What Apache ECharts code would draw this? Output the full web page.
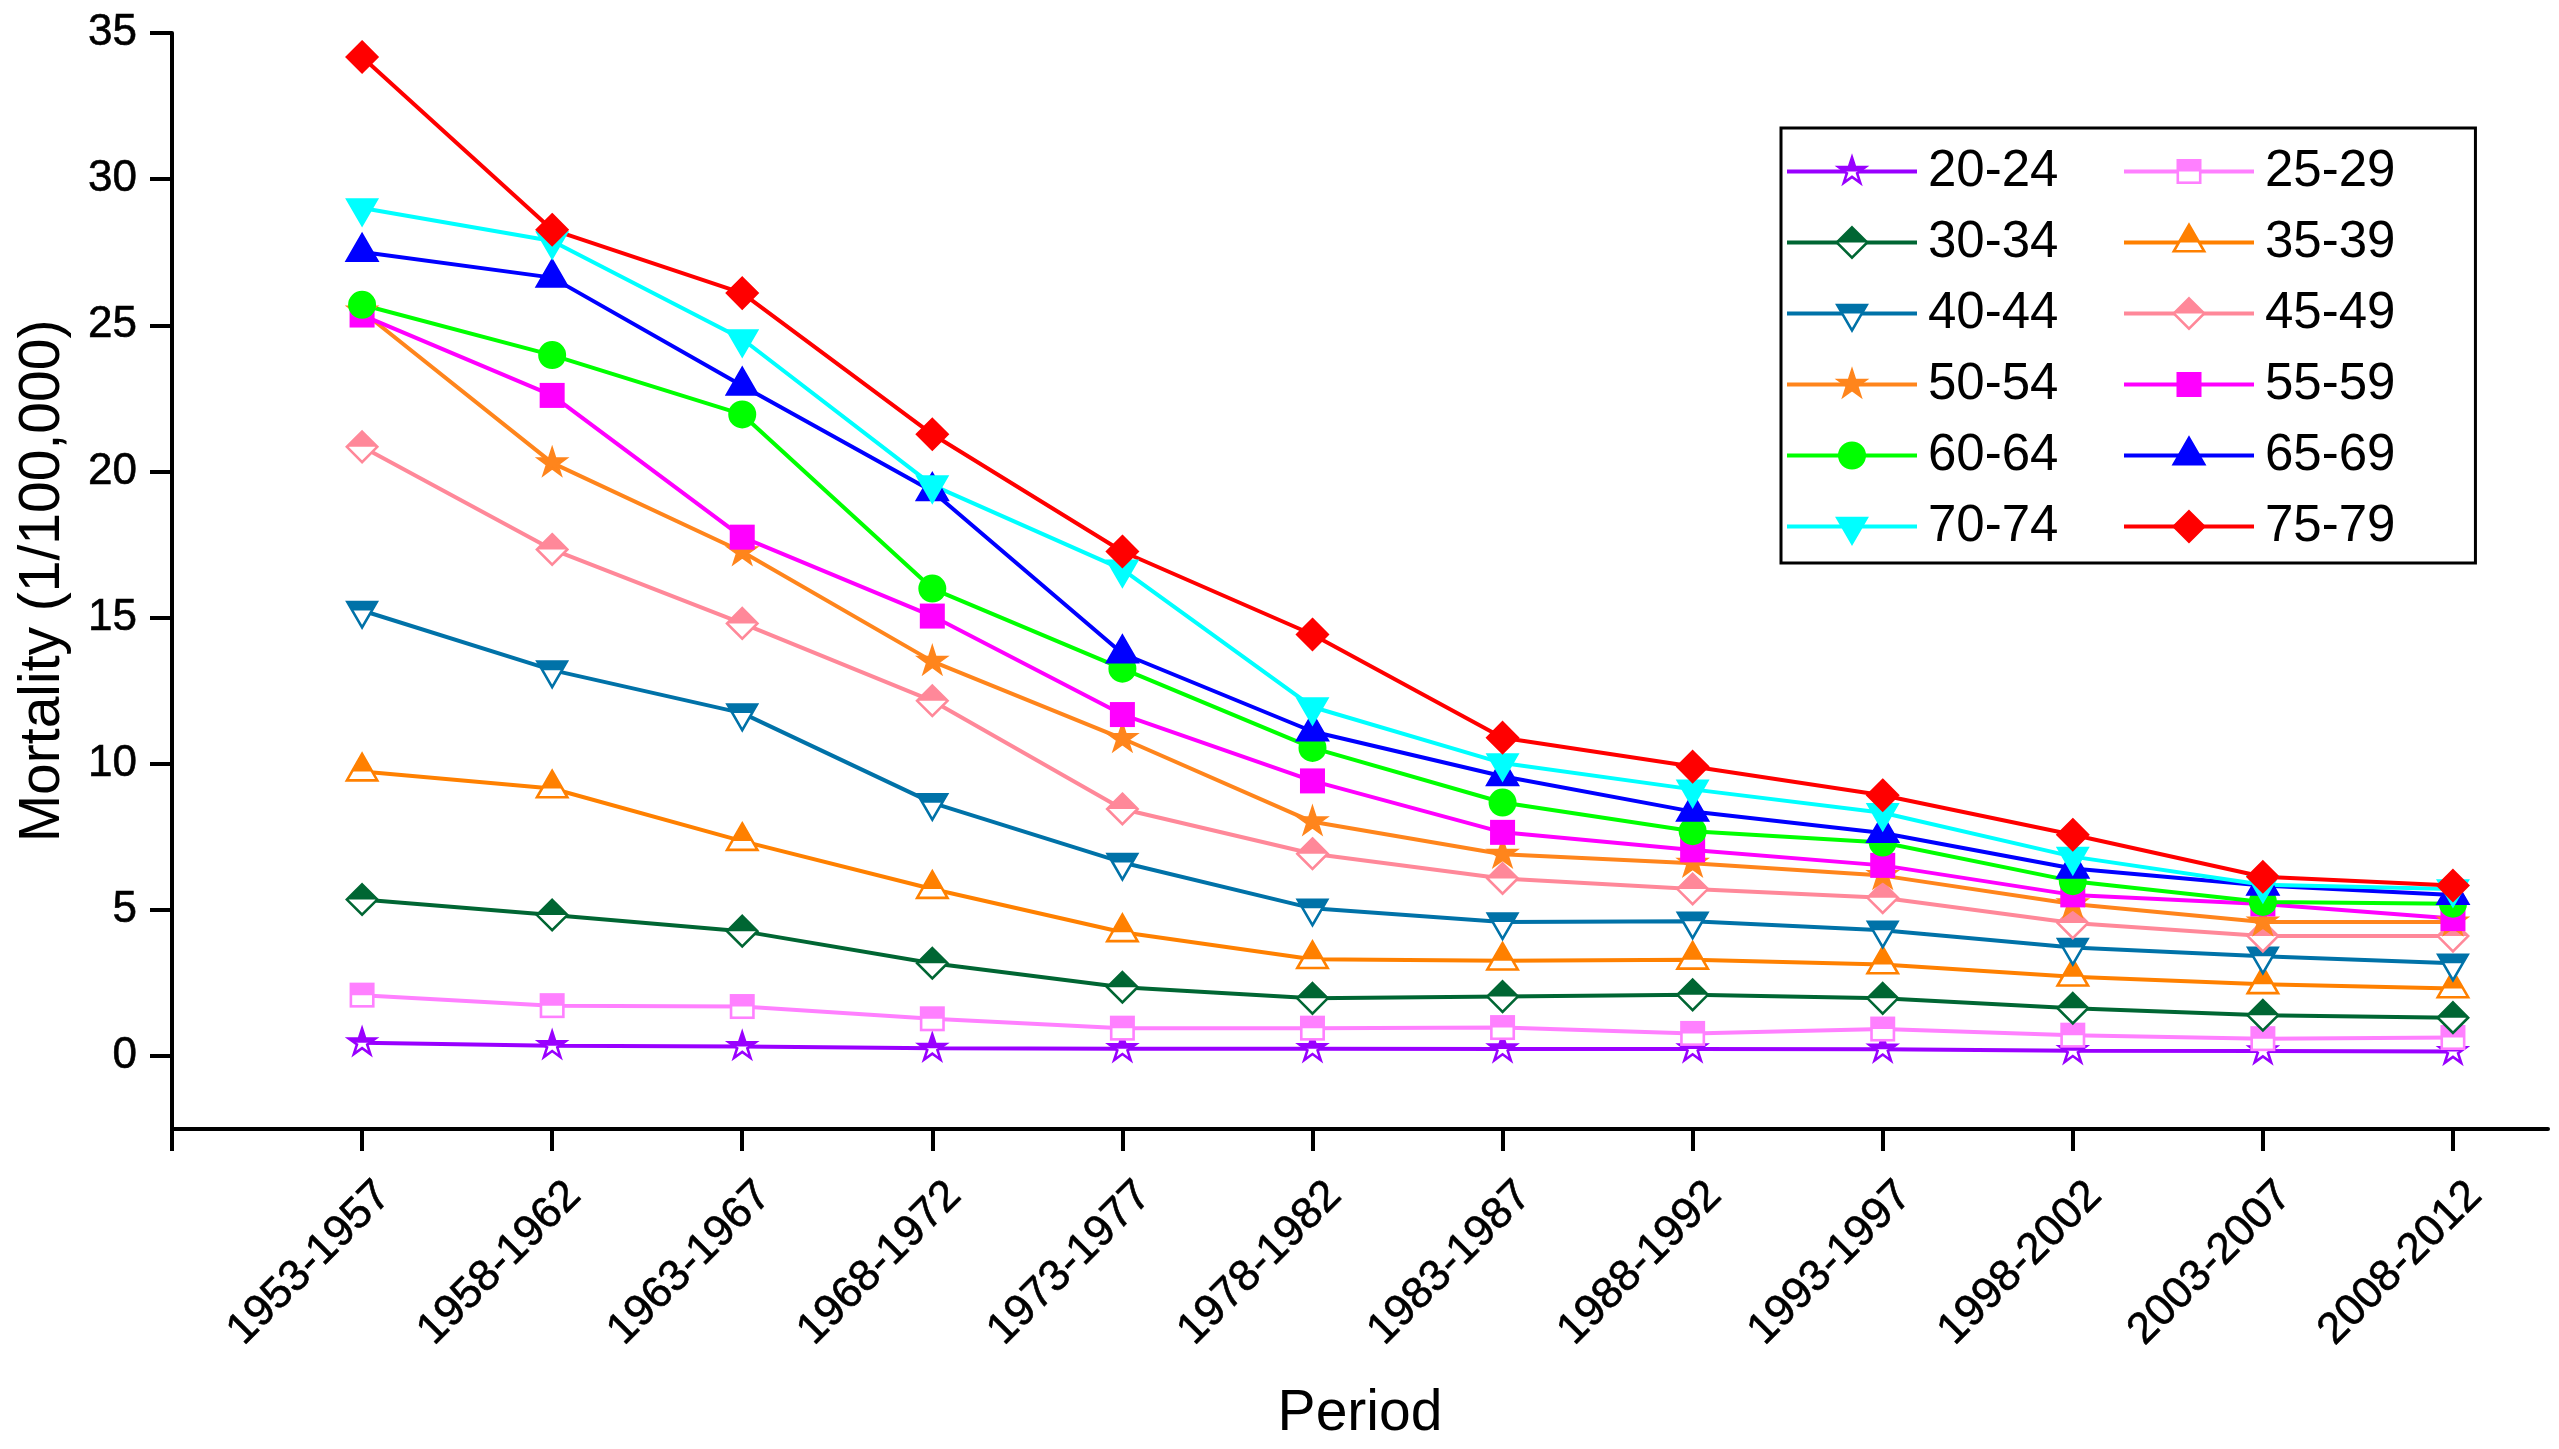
<!DOCTYPE html>
<html>
<head>
<meta charset="utf-8">
<script src="https://cdn.jsdelivr.net/npm/echarts@6/dist/echarts.min.js"></script>
<style>
html,body{margin:0;padding:0;background:#ffffff;}
#chart{width:2559px;height:1449px;}
</style>
</head>
<body>
<div id="chart"></div>
<script>
// ---------------- data ----------------
const periods = ['1953-1957','1958-1962','1963-1967','1968-1972','1973-1977','1978-1982',
                 '1983-1987','1988-1992','1993-1997','1998-2002','2003-2007','2008-2012'];
const yTicks = [0, 5, 10, 15, 20, 25, 30, 35];

const age20_24 = [0.45, 0.35, 0.32, 0.26, 0.25, 0.25, 0.24, 0.24, 0.23, 0.18, 0.17, 0.15];
const age25_29 = [2.08, 1.72, 1.69, 1.27, 0.95, 0.95, 0.97, 0.77, 0.92, 0.71, 0.59, 0.63];
const age30_34 = [5.35, 4.82, 4.27, 3.17, 2.35, 1.97, 2.03, 2.09, 1.97, 1.63, 1.39, 1.31];
const age35_39 = [9.73, 9.15, 7.35, 5.71, 4.23, 3.31, 3.26, 3.29, 3.13, 2.71, 2.45, 2.31];
const age40_44 = [15.24, 13.2, 11.73, 8.66, 6.62, 5.05, 4.58, 4.61, 4.30, 3.71, 3.41, 3.17];
const age45_49 = [20.84, 17.33, 14.80, 12.15, 8.45, 6.92, 6.07, 5.71, 5.41, 4.55, 4.10, 4.10];
const age50_54 = [25.48, 20.29, 17.25, 13.5, 10.86, 8.01, 6.90, 6.59, 6.17, 5.20, 4.58, 4.58];
const age55_59 = [25.35, 22.60, 17.75, 15.05, 11.68, 9.41, 7.65, 7.05, 6.52, 5.51, 5.20, 4.70];
const age60_64 = [25.70, 23.98, 21.95, 15.99, 13.25, 10.54, 8.67, 7.69, 7.30, 5.98, 5.27, 5.21];
const age65_69 = [27.51, 26.63, 22.93, 19.32, 13.77, 11.10, 9.57, 8.36, 7.63, 6.41, 5.83, 5.51];
const age70_74 = [29.01, 27.88, 24.53, 19.53, 16.65, 11.94, 10.02, 9.12, 8.32, 6.82, 5.86, 5.71];
const age75_79 = [34.18, 28.27, 26.10, 21.27, 17.26, 14.42, 10.89, 9.90, 8.92, 7.57, 6.13, 5.83];

const seriesNames = ['20-24','25-29','30-34','35-39','40-44','45-49','50-54','55-59','60-64','65-69','70-74','75-79'];
const seriesValues = [age20_24, age25_29, age30_34, age35_39, age40_44, age45_49,
                      age50_54, age55_59, age60_64, age65_69, age70_74, age75_79];

// ---------------- styles ----------------
const styles = [
  {color:'#9900FF', shape:'star',         half:true,  w:28, h:28},
  {color:'#FF80FF', shape:'square',       half:true,  w:25, h:25},
  {color:'#006633', shape:'diamond',      half:true,  w:33, h:33},
  {color:'#FF8000', shape:'triangle',     half:true,  w:33, h:29},
  {color:'#0072A8', shape:'triangleDown', half:true,  w:32, h:28},
  {color:'#FF8899', shape:'diamond',      half:true,  w:33, h:33},
  {color:'#FF851C', shape:'star',         half:false, w:28, h:28},
  {color:'#FF00FF', shape:'square',       half:false, w:25, h:25},
  {color:'#00FF00', shape:'circle',       half:false, w:28, h:28},
  {color:'#0000FF', shape:'triangle',     half:false, w:33, h:29},
  {color:'#00FFFF', shape:'triangleDown', half:false, w:32, h:28},
  {color:'#FF0000', shape:'diamond',      half:false, w:33, h:33}
];

const SW = 2.6;      // symbol outline width
const PADS = 4;      // symbol image padding
const LINE_W = 4;    // series line width
const LEG_LINE = 130, LEG_W = 136, LEG_H = 44;
const FONT = 'Liberation Sans, Arial, Helvetica, sans-serif';

function anchorOf(st) {
  const s = SW / 2, h = st.h;
  if (st.shape === 'triangle') return (2 * h - s) / 3;
  if (st.shape === 'triangleDown') return (h + s) / 3;
  if (st.shape === 'star') return s + (h - SW) / 1.809;
  return h / 2;
}

function shapeMarkup(st, ox, oy) {
  const s = SW / 2, w = st.w, h = st.h;
  const P = pts => '<polygon points="' + pts.map(p => (p[0] + ox).toFixed(2) + ',' + (p[1] + oy).toFixed(2)).join(' ') + '"/>';
  switch (st.shape) {
    case 'diamond': return P([[w/2, s], [w - s, h/2], [w/2, h - s], [s, h/2]]);
    case 'square': return '<rect x="' + (ox + s) + '" y="' + (oy + s) + '" width="' + (w - SW) + '" height="' + (h - SW) + '"/>';
    case 'circle': return '<ellipse cx="' + (ox + w/2) + '" cy="' + (oy + h/2) + '" rx="' + (w/2 - s) + '" ry="' + (h/2 - s) + '"/>';
    case 'triangle': return P([[w/2, s], [w - s, h - s], [s, h - s]]);
    case 'triangleDown': return P([[s, s], [w - s, s], [w/2, h - s]]);
    case 'star': {
      const R = (h - SW) / 1.809, r = R * 0.382, cx = w / 2, cy = s + R;
      const pts = [];
      for (let k = 0; k < 10; k++) {
        const a = (-90 + 36 * k) * Math.PI / 180, rad = (k % 2) ? r : R;
        pts.push([cx + rad * Math.cos(a), cy + rad * Math.sin(a)]);
      }
      return P(pts);
    }
  }
  return '';
}

function symbolImage(st, forLegend) {
  const W = forLegend ? LEG_W : st.w + 2 * PADS;
  const H = forLegend ? LEG_H : st.h + 2 * PADS;
  const anc = anchorOf(st);
  const ox = forLegend ? LEG_LINE / 2 - st.w / 2 : PADS;
  const oy = forLegend ? LEG_H / 2 - anc : PADS;
  const shp = shapeMarkup(st, ox, oy);
  let body = '';
  if (forLegend) {
    body += '<rect x="0" y="' + (LEG_H / 2 - LINE_W / 2) + '" width="' + LEG_LINE + '" height="' + LINE_W + '" fill="' + st.color + '"/>';
  }
  if (st.half) {
    const split = oy + anc;
    body += '<defs><clipPath id="k"><rect x="0" y="0" width="' + W + '" height="' + split + '"/></clipPath></defs>';
    body += '<g fill="#ffffff">' + shp + '</g>';
    body += '<g fill="' + st.color + '" clip-path="url(#k)">' + shp + '</g>';
    body += '<g fill="none" stroke="' + st.color + '" stroke-width="' + SW + '">' + shp + '</g>';
  } else {
    body += '<g fill="' + st.color + '" stroke="' + st.color + '" stroke-width="' + SW + '">' + shp + '</g>';
  }
  const svg = '<svg xmlns="http://www.w3.org/2000/svg" width="' + (W * 2) + '" height="' + (H * 2) + '" viewBox="0 0 ' + W + ' ' + H + '">' + body + '</svg>';
  return 'image://data:image/svg+xml;charset=utf-8,' + encodeURIComponent(svg);
}

// ---------------- chart ----------------
const chart = echarts.init(document.getElementById('chart'), null, {renderer: 'canvas'});

const series = seriesNames.map((name, i) => {
  const st = styles[i];
  return {
    name: name,
    type: 'line',
    data: seriesValues[i].map((v, j) => [j, v]),
    symbol: symbolImage(st, false),
    symbolSize: [st.w + 2 * PADS, st.h + 2 * PADS],
    symbolOffset: [0, st.h / 2 - anchorOf(st)],
    showAllSymbol: true,
    lineStyle: {color: st.color, width: LINE_W},
    itemStyle: {color: st.color},
    emphasis: {disabled: true},
    animation: false
  };
});

const legendItem = i => ({name: seriesNames[i], icon: symbolImage(styles[i], true)});
const legendCommon = {
  orient: 'vertical',
  itemWidth: LEG_W,
  itemHeight: LEG_H,
  itemGap: 20,
  selectedMode: false,
  textStyle: {fontSize: 51, lineHeight: 50, color: '#000', fontFamily: FONT}
};

const tickText = {fontSize: 44, color: '#000', fontFamily: FONT, textBorderColor: '#000', textBorderWidth: 0.6};

const option = {
  backgroundColor: '#ffffff',
  animation: false,
  grid: {left: 172, right: 11, top: 33, bottom: 320, containLabel: false, outerBoundsMode: 'none'},
  xAxis: {
    type: 'value',
    min: -1,
    max: 11.5,
    interval: 1,
    name: 'Period',
    nameLocation: 'middle',
    nameGap: 257,
    nameTextStyle: {fontSize: 57, color: '#000', fontFamily: FONT},
    axisLine: {onZero: false, lineStyle: {color: '#000', width: 4}},
    axisTick: {show: true, inside: false, length: 22, lineStyle: {color: '#000', width: 4},
               customValues: [-1].concat(periods.map((p, j) => j))},
    axisLabel: Object.assign({
      customValues: periods.map((p, j) => j),
      formatter: v => periods[Math.round(v)] || '',
      rotate: 45, margin: 38, align: 'right', verticalAlign: 'top', padding: [9, 0, 0, 0]
    }, tickText),
    splitLine: {show: false}
  },
  yAxis: {
    type: 'value',
    min: -2.5,
    max: 35,
    name: 'Mortality (1/100,000)',
    nameLocation: 'middle',
    nameGap: 100,
    nameRotate: 90,
    nameTextStyle: {fontSize: 57, color: '#000', fontFamily: FONT},
    axisLine: {show: true, onZero: false, lineStyle: {color: '#000', width: 4}},
    axisTick: {show: true, inside: false, length: 22, lineStyle: {color: '#000', width: 4}, customValues: yTicks},
    axisLabel: Object.assign({customValues: yTicks, margin: 35}, tickText),
    splitLine: {show: false}
  },
  legend: [
    Object.assign({}, legendCommon, {
      left: 1781, top: 128,
      padding: [18, 417, 11, 6],
      borderColor: '#000', borderWidth: 3, backgroundColor: '#fff',
      data: [0, 2, 4, 6, 8, 10].map(legendItem)
    }),
    Object.assign({}, legendCommon, {
      left: 2124, top: 146,
      padding: 0,
      data: [1, 3, 5, 7, 9, 11].map(legendItem)
    })
  ],
  series: series
};

chart.setOption(option);
</script>
</body>
</html>
